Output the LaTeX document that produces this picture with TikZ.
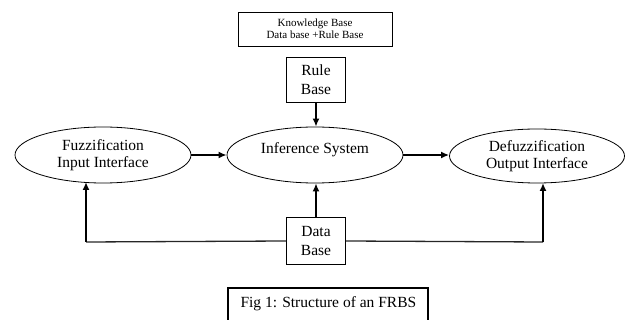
\documentclass[tikz,border=0pt]{standalone}
\usepackage{fontspec}
\setmainfont{Liberation Serif}
\usetikzlibrary{shapes.geometric,arrows.meta}
\begin{document}
\begin{tikzpicture}[x=1pt,y=-1pt,
  ell/.style={draw,ellipse,line width=0.8pt,minimum width=176pt,minimum height=56pt,inner sep=0pt,align=center,font=\fontsize{15.5}{17}\selectfont},
  sbox/.style={draw,line width=0.9pt,minimum width=59pt,minimum height=45pt,inner sep=0pt,align=center,font=\fontsize{15.5}{19}\selectfont},
  arr/.style={line width=2pt,-{Latex[length=8pt,width=7pt]}},
  thin/.style={line width=1.3pt,draw=black!85}]
\useasboundingbox (0,0) rectangle (630,320);
\node[draw,line width=0.9pt,minimum width=154pt,minimum height=34pt,inner sep=0pt,align=center,font=\fontsize{11}{12}\selectfont] (kb) at (315,29) {Knowledge Base\\Data base +Rule Base};
\node[sbox] (rb) at (316,80) {Rule\\Base};
\node[ell] (fz) at (103,155) {Fuzzification\\Input Interface};
\node[ell] (is) at (315,155) {Inference System\\[-4pt]\phantom{x}};
\node[ell,minimum width=175pt,minimum height=54pt] (dz) at (537,156) {Defuzzification\\Output Interface};
\node[sbox,minimum height=47pt] (db) at (316,241) {Data\\Base};
\coordinate (ljoin) at (86,242);
\coordinate (lend) at (86,182);
\coordinate (rjoin) at (543,242);
\coordinate (rend) at (543,183);
\draw[arr] (rb.south) -- (rb.south |- is.north);
\draw[arr] (fz.east) -- (fz.east -| is.west);
\draw[arr] (is.east) -- (is.east -| dz.west);
\draw[arr] (db.north) -- (db.north |- is.south);
\draw[thin] (db.west) -- (ljoin);
\draw[thin] (db.east) -- (rjoin);
\draw[arr] (ljoin) -- (lend);
\draw[arr] (rjoin) -- (rend);
\node[draw,line width=2pt,minimum width=200pt,minimum height=40pt,inner sep=0pt,anchor=north west] (cap) at (227,287) {};
\node[font=\fontsize{15.5}{17}\selectfont,anchor=base west] (capt) at (237,308) {Fig 1: Structure of an FRBS};
\end{tikzpicture}
\end{document}
